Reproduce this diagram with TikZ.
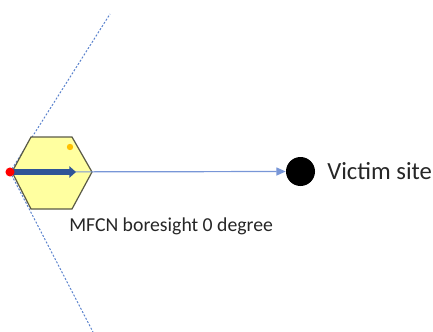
\documentclass[tikz,border=0pt]{standalone}
\usepackage{fontspec}
\setmainfont{Carlito}
\usetikzlibrary{arrows.meta}
\definecolor{hexfill}{RGB}{255,255,160}
\definecolor{hexline}{RGB}{90,90,70}
\definecolor{beam}{RGB}{90,130,205}
\definecolor{thinblue}{RGB}{120,150,215}
\definecolor{bore}{RGB}{47,85,151}
\definecolor{orangedot}{RGB}{255,192,0}
\tikzset{
  conebound/.style={beam, line width=0.75pt, dash pattern=on 1.5pt off 1.3pt},
  hexcell/.style={draw=hexline, fill=hexfill, line width=0.9pt},
  lbl/.style={inner sep=0pt, anchor=west, text=black!85}
}
\begin{document}
\begin{tikzpicture}[x=0.75pt,y=-0.75pt]
\useasboundingbox (0,0) rectangle (433,332);
% coordinates
\coordinate (origin) at (10,172);
\coordinate (upend) at (110,14);
\coordinate (downend) at (93,332);
\coordinate (hexL) at (12,172);
\coordinate (hexR) at (92,172);
% cone boundaries
\draw[conebound] (origin) -- (upend);
\draw[conebound] (origin) -- (downend);
% hexagon
\draw[hexcell] (12,172) -- (31,137) -- (72,137) -- (92,172) -- (72,209) -- (31,209) -- cycle;
% victim
\node[circle, fill=black, minimum size=21.75pt, inner sep=0pt] (victim) at (300.5,171.5) {};
% thin line
\draw[draw=thinblue, line width=0.9pt, -{Triangle[length=7pt,width=6pt]}] (hexL) -- (victim.west);
% boresight arrow
\draw[bore, line width=3.8pt, -{Triangle[length=5pt,width=8.5pt]}] (13,172) -- (76,172);
% dots
\node[circle, fill=red, minimum size=6.8pt, inner sep=0pt] (reddot) at (origin) {};
\node[circle, fill=orangedot, minimum size=4.8pt, inner sep=0pt] (odot) at (70,147) {};
% labels
\node[lbl, font=\fontsize{18.5}{20}\selectfont] (vtext) at (327,171.5) {Victim site};
\node[lbl, font=\fontsize{14.8}{16}\selectfont, anchor=base west] (mtext) at (69,231) {MFCN boresight 0 degree};
\end{tikzpicture}
\end{document}
